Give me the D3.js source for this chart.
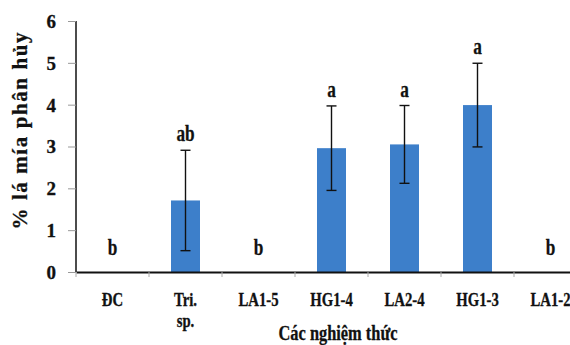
<!DOCTYPE html>
<html>
<head>
<meta charset="utf-8">
<script src="https://cdn.jsdelivr.net/npm/d3@7"></script>
<style>
  body { margin: 0; background: #fff; }
  text { font-family: "Liberation Serif", "Times New Roman", serif; font-weight: bold; fill: #111; stroke: #111; stroke-width: 0.3px; }
</style>
</head>
<body>
<div id="chart"></div>
<script>
const categories = ["ĐC", "Tri. sp.", "LA1-5", "HG1-4", "LA2-4", "HG1-3", "LA1-2"];
const values = [0, 1.71, 0, 2.96, 3.05, 3.99, 0];
const errors = [0, 1.2, 0, 1.01, 0.93, 1.0, 0];
const groups = ["b", "ab", "b", "a", "a", "a", "b"];
const yTicks = [0, 1, 2, 3, 4, 5, 6];

const width = 570;
const height = 345;
const margin = { top: 21, right: -17, bottom: 73, left: 76 };

const svg = d3.select("#chart")
  .append("svg")
  .attr("width", width)
  .attr("height", height);

const x = d3.scaleBand()
  .domain(categories)
  .range([margin.left, width - margin.right])
  .paddingInner(0)
  .paddingOuter(0);

const y = d3.scaleLinear()
  .domain([0, 6])
  .range([height - margin.bottom, margin.top]);

const barW = 29;
const cx = (d) => x(d) + x.bandwidth() / 2;
const idx = (d) => categories.indexOf(d);

// bars
svg.append("g")
  .selectAll("rect")
  .data(categories)
  .join("rect")
  .attr("x", (d) => cx(d) - barW / 2)
  .attr("width", barW)
  .attr("y", (d, i) => y(values[i]))
  .attr("height", (d, i) => y(0) - y(values[i]))
  .attr("fill", "#3d7fca");

// error bars
const err = svg.append("g")
  .attr("stroke", "#111")
  .attr("stroke-width", 1.4)
  .selectAll("g")
  .data(categories.filter((d, i) => errors[i] > 0))
  .join("g");

err.append("line")
  .attr("x1", cx).attr("x2", cx)
  .attr("y1", (d) => y(values[idx(d)] - errors[idx(d)]))
  .attr("y2", (d) => y(values[idx(d)] + errors[idx(d)]));

[-1, 1].forEach((s) => {
  err.append("line")
    .attr("x1", (d) => cx(d) - 5).attr("x2", (d) => cx(d) + 5)
    .attr("y1", (d) => y(values[idx(d)] + s * errors[idx(d)]))
    .attr("y2", (d) => y(values[idx(d)] + s * errors[idx(d)]));
});

// significance letters
svg.append("g")
  .selectAll("text")
  .data(categories)
  .join("text")
  .attr("text-anchor", "middle")
  .attr("font-size", 23)
  .attr("transform", (d, i) => {
    const top = values[i] + errors[i];
    const yy = top > 0 ? y(top) - 9 : y(0) - 17;
    return `translate(${cx(d)},${yy}) scale(0.75,1)`;
  })
  .text((d, i) => groups[i]);

// y axis
const yAxisG = svg.append("g")
  .attr("transform", `translate(${margin.left},0)`)
  .call(d3.axisLeft(y).tickValues(yTicks).tickFormat(d3.format("d")).tickSize(8).tickPadding(12));
yAxisG.select(".domain").attr("stroke", "#111").attr("stroke-width", 1.5).attr("d", `M0,${y(6)}V${y(0)}`);
yAxisG.selectAll(".tick line").attr("stroke", "#999");
yAxisG.selectAll(".tick text")
  .attr("font-size", 19)
  .attr("font-family", null)
  .attr("fill", "#111")
  .attr("dy", "0.34em");

// x axis
const xAxisG = svg.append("g")
  .attr("transform", `translate(0,${y(0)})`)
  .call(d3.axisBottom(x).tickSize(0).tickFormat(""));
xAxisG.select(".domain").attr("stroke", "#111").attr("stroke-width", 2.2);
xAxisG.selectAll(".tick").remove();

// category boundaries
svg.append("g")
  .selectAll("line")
  .data(categories)
  .join("line")
  .attr("x1", (d) => x(d)).attr("x2", (d) => x(d))
  .attr("y1", y(0)).attr("y2", y(0) + 5)
  .attr("stroke", "#aaa")
  .attr("stroke-width", 1);

// category labels
const catLabels = svg.append("g")
  .selectAll("text")
  .data(categories)
  .join("text")
  .attr("text-anchor", "middle")
  .attr("font-size", 18)
  .attr("transform", (d) => `translate(${cx(d)},306) scale(0.82,1)`);
catLabels.each(function (d) {
  const parts = d === "Tri. sp." ? ["Tri.", "sp."] : [d];
  d3.select(this).selectAll("tspan")
    .data(parts)
    .join("tspan")
    .attr("x", 0)
    .attr("dy", (p, j) => (j === 0 ? 0 : 21))
    .text((p) => p);
});

// axis titles
svg.append("text")
  .attr("text-anchor", "middle")
  .attr("font-size", 21)
  .attr("transform", `translate(27,${131}) rotate(-90)`)
  .attr("textLength", 197)
  .attr("lengthAdjust", "spacing")
  .text("% lá mía phân hủy");

svg.append("text")
  .attr("text-anchor", "middle")
  .attr("font-size", 20)
  .attr("transform", `translate(338,340) scale(0.82,1)`)
  .text("Các nghiệm thức");
</script>
</body>
</html>
